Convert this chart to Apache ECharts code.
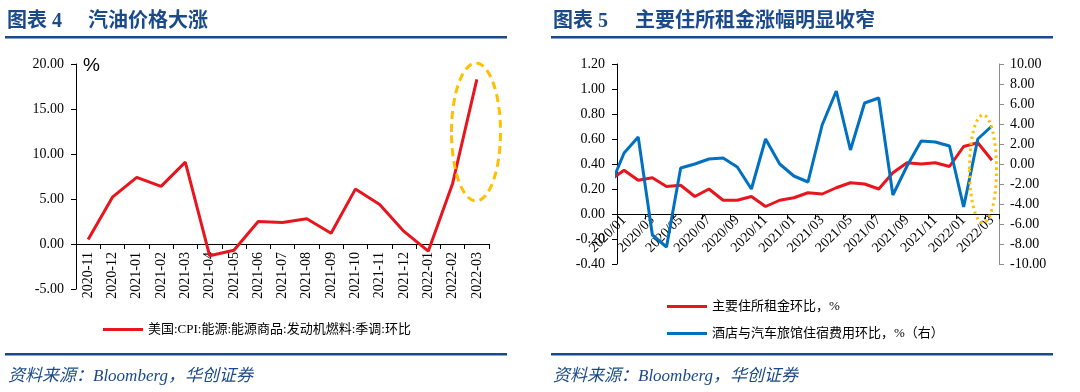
<!DOCTYPE html>
<html>
<head>
<meta charset="utf-8">
<script src="https://cdn.jsdelivr.net/npm/echarts@6/dist/echarts.min.js"></script>
<style>
html,body{margin:0;padding:0;background:#fff;}
#c{width:1080px;height:392px;}
</style>
</head>
<body>
<div id="c"></div>
<script>
// ---- Chart 4 data ----
const leftCats = ['2020-11','2020-12','2021-01','2021-02','2021-03','2021-04','2021-05','2021-06','2021-07','2021-08','2021-09','2021-10','2021-11','2021-12','2022-01','2022-02','2022-03'];
const gasoline = [0.5, 5.2, 7.4, 6.4, 9.1, -1.3, -0.7, 2.5, 2.4, 2.8, 1.2, 6.1, 4.4, 1.4, -0.8, 6.7, 18.3];
const leftTicks = {min: -5, max: 20, interval: 5};
const gasolineName = '美国:CPI:能源:能源商品:发动机燃料:季调:环比';

// ---- Chart 5 data (first month only partly visible, clipped at axis) ----
const rightCats = ['2019/12','2020/01','2020/02','2020/03','2020/04','2020/05','2020/06','2020/07','2020/08','2020/09','2020/10','2020/11','2020/12','2021/01','2021/02','2021/03','2021/04','2021/05','2021/06','2021/07','2021/08','2021/09','2021/10','2021/11','2021/12','2022/01','2022/02','2022/03'];
const rent  = [0.27, 0.35, 0.27, 0.29, 0.22, 0.23, 0.14, 0.20, 0.11, 0.11, 0.14, 0.06, 0.11, 0.13, 0.17, 0.16, 0.21, 0.25, 0.24, 0.20, 0.33, 0.41, 0.40, 0.41, 0.38, 0.54, 0.57, 0.43];
const hotel = [-2.3, 1.1, 2.7, -7.1, -8.3, -0.4, 0.0, 0.5, 0.6, -0.3, -2.5, 2.5, 0.0, -1.2, -1.8, 3.9, 7.3, 1.4, 6.1, 6.6, -3.1, -0.2, 2.3, 2.2, 1.8, -4.3, 2.5, 3.8];
const rentTicks = {min: -0.4, max: 1.2, interval: 0.2};
const hotelTicks = {min: -10, max: 10, interval: 2};
const rentName = '主要住所租金环比，%';
const hotelName = '酒店与汽车旅馆住宿费用环比，%（右）';

const RED = '#E8141E', BLUE = '#0070C0', NAVY = '#1B4A8A', GOLD = '#FFC000';
const SERIF = '"Liberation Serif","Noto Sans CJK SC",serif';
const CJK = '"Liberation Serif","Noto Sans CJK SC",sans-serif';
const TITLE_FONT = 'bold 20px "Liberation Serif","Noto Sans CJK SC"';
const FOOT_FONT = 'italic 17px "Liberation Serif","Noto Sans CJK SC"';

const chart = echarts.init(document.getElementById('c'), null, {renderer: 'canvas'});

const axisLabelNum = {fontSize: 14, fontFamily: SERIF, color: '#000', formatter: v => v.toFixed(2)};
const oddIdx = (i) => i % 2 === 1;

// grid geometry: x axis is moved up to the zero line of the (left) value axis
const leftGrid = {left: 76, top: 64, width: 413, height: 225};
const rightGrid = {left: 617, top: 64, width: 382, height: 200};
const leftZeroOffset = -leftGrid.height * (0 - leftTicks.min) / (leftTicks.max - leftTicks.min);
const rightZeroOffset = -rightGrid.height * (0 - rentTicks.min) / (rentTicks.max - rentTicks.min);

chart.setOption({
  animation: false,
  backgroundColor: '#fff',
  grid: [leftGrid, rightGrid],
  xAxis: [
    {
      type: 'category', gridIndex: 0, data: leftCats, boundaryGap: true, position: 'bottom', offset: leftZeroOffset,
      axisLine: {onZero: false, lineStyle: {color: '#000', width: 1}},
      axisTick: {show: true, length: 5, interval: 0, lineStyle: {color: '#000'}},
      axisLabel: {rotate: 90, interval: 0, margin: 8, fontSize: 14, fontFamily: SERIF, color: '#000', hideOverlap: false},
      splitLine: {show: false}
    },
    {
      type: 'category', gridIndex: 1, data: rightCats, boundaryGap: true, min: 1, position: 'bottom', offset: rightZeroOffset,
      axisLine: {onZero: false, lineStyle: {color: '#000', width: 1}},
      axisTick: {show: true, length: 5, interval: oddIdx, lineStyle: {color: '#000'}},
      axisLabel: {rotate: 45, interval: oddIdx, margin: 4, fontSize: 14, fontFamily: SERIF, color: '#000', hideOverlap: false},
      splitLine: {show: false}
    }
  ],
  yAxis: [
    {
      type: 'value', gridIndex: 0, min: leftTicks.min, max: leftTicks.max, interval: leftTicks.interval,
      axisLine: {show: true, onZero: false, lineStyle: {color: '#000'}},
      axisTick: {show: true, length: 5, lineStyle: {color: '#000'}},
      axisLabel: Object.assign({margin: 12}, axisLabelNum),
      splitLine: {show: false}
    },
    {
      type: 'value', gridIndex: 1, position: 'left', min: rentTicks.min, max: rentTicks.max, interval: rentTicks.interval,
      axisLine: {show: true, onZero: false, lineStyle: {color: '#000'}},
      axisTick: {show: true, length: 5, lineStyle: {color: '#000'}},
      axisLabel: Object.assign({margin: 12}, axisLabelNum),
      splitLine: {show: false}
    },
    {
      type: 'value', gridIndex: 1, position: 'right', min: hotelTicks.min, max: hotelTicks.max, interval: hotelTicks.interval,
      axisLine: {show: true, onZero: false, lineStyle: {color: '#8C8C8C'}},
      axisTick: {show: true, length: 5, lineStyle: {color: '#8C8C8C'}},
      axisLabel: Object.assign({margin: 11}, axisLabelNum),
      splitLine: {show: false}
    }
  ],
  legend: [
    {
      data: [gasolineName], left: 98, top: 318, icon: 'rect', itemWidth: 40, itemHeight: 3,
      textStyle: {fontSize: 13, fontFamily: CJK, color: '#000'}
    },
    {
      data: [rentName, hotelName], orient: 'vertical', left: 662, top: 295, itemGap: 14,
      icon: 'rect', itemWidth: 40, itemHeight: 3,
      textStyle: {fontSize: 13, fontFamily: CJK, color: '#000'}
    }
  ],
  series: [
    {
      name: gasolineName, type: 'line', xAxisIndex: 0, yAxisIndex: 0, data: gasoline,
      symbol: 'none', color: RED, lineStyle: {color: RED, width: 3}
    },
    {
      name: rentName, type: 'line', xAxisIndex: 1, yAxisIndex: 1, data: rent, clip: true,
      symbol: 'none', color: RED, lineStyle: {color: RED, width: 3}
    },
    {
      name: hotelName, type: 'line', xAxisIndex: 1, yAxisIndex: 2, data: hotel, clip: true,
      symbol: 'none', color: BLUE, lineStyle: {color: BLUE, width: 3}
    }
  ],
  graphic: [
    {type: 'text', x: 7, y: 22, style: {text: '图表 4', font: TITLE_FONT, fill: NAVY, verticalAlign: 'middle', textVerticalAlign: 'middle'}},
    {type: 'text', x: 88, y: 22, style: {text: '汽油价格大涨', font: TITLE_FONT, fill: NAVY, verticalAlign: 'middle', textVerticalAlign: 'middle'}},
    {type: 'text', x: 553, y: 22, style: {text: '图表 5', font: TITLE_FONT, fill: NAVY, verticalAlign: 'middle', textVerticalAlign: 'middle'}},
    {type: 'text', x: 635, y: 22, style: {text: '主要住所租金涨幅明显收窄', font: TITLE_FONT, fill: NAVY, verticalAlign: 'middle', textVerticalAlign: 'middle'}},
    {type: 'rect', shape: {x: 5, y: 36, width: 502, height: 2.5}, style: {fill: NAVY}},
    {type: 'rect', shape: {x: 551, y: 36, width: 502, height: 2.5}, style: {fill: NAVY}},
    {type: 'rect', shape: {x: 5, y: 353, width: 502, height: 2.5}, style: {fill: NAVY}},
    {type: 'rect', shape: {x: 551, y: 353, width: 502, height: 2.5}, style: {fill: NAVY}},
    {type: 'text', x: 8, y: 377, style: {text: '资料来源：Bloomberg，华创证券', font: FOOT_FONT, fill: NAVY, verticalAlign: 'middle', textVerticalAlign: 'middle'}},
    {type: 'text', x: 553, y: 377, style: {text: '资料来源：Bloomberg，华创证券', font: FOOT_FONT, fill: NAVY, verticalAlign: 'middle', textVerticalAlign: 'middle'}},
    {type: 'text', x: 83, y: 66, style: {text: '%', font: '19px "Liberation Sans"', fill: '#000', verticalAlign: 'middle', textVerticalAlign: 'middle'}},
    {type: 'ellipse', shape: {cx: 476, cy: 132, rx: 24.5, ry: 69}, style: {fill: 'none', stroke: GOLD, lineWidth: 3, lineDash: [8, 5]}, z: 100},
    {type: 'ellipse', shape: {cx: 983, cy: 169, rx: 13.5, ry: 54}, style: {fill: 'none', stroke: GOLD, lineWidth: 3, lineDash: [2.5, 3.5]}, z: 100}
  ]
});
</script>
</body>
</html>
